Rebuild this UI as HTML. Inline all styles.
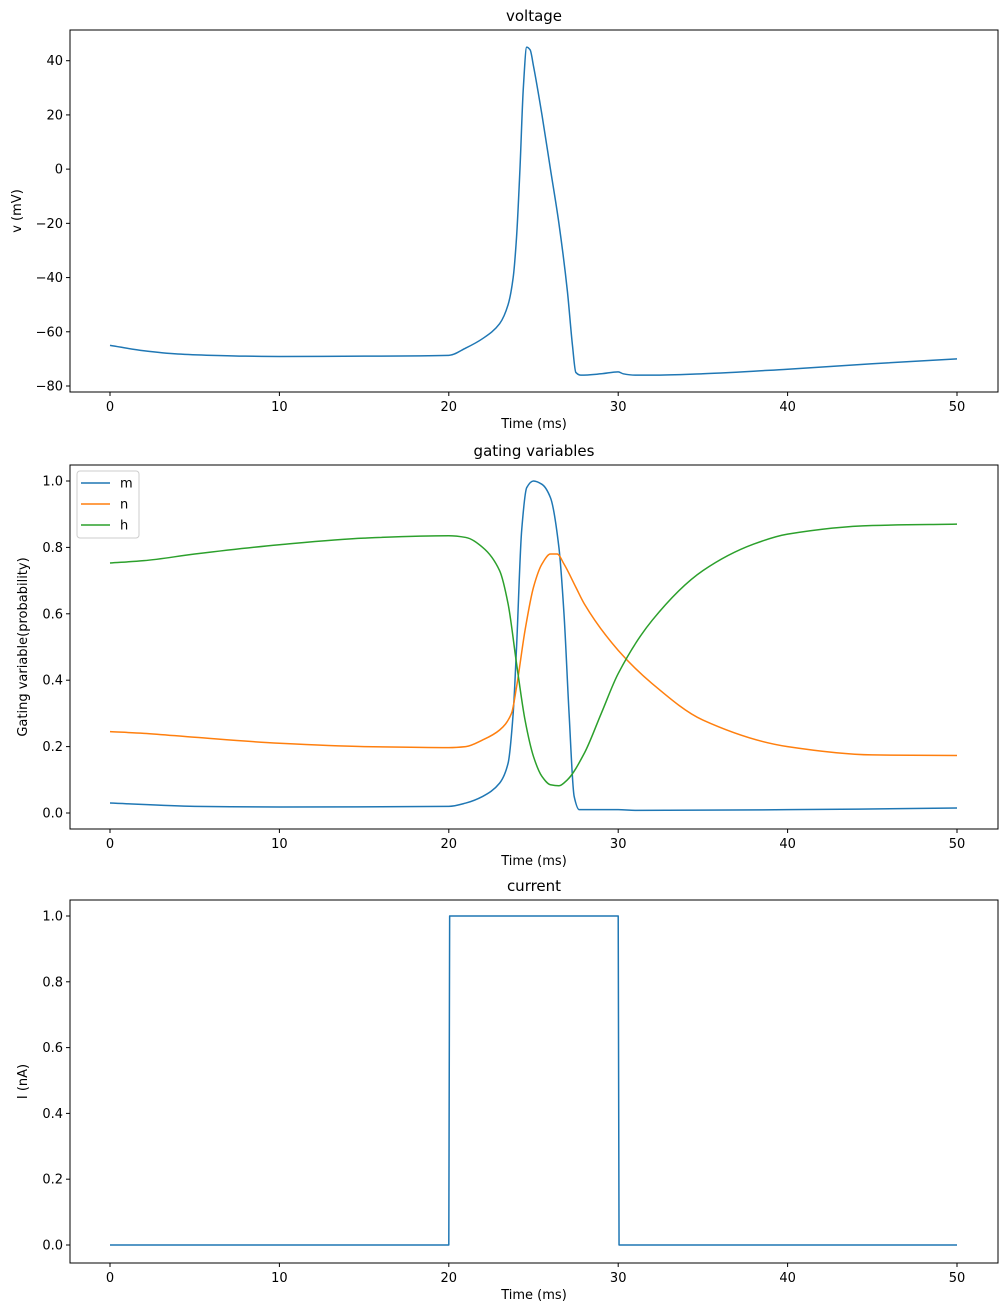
<!DOCTYPE html>
<html><head><meta charset="utf-8"><style>
body{margin:0;background:#fff}
svg{display:block;font-family:"DejaVu Sans","Liberation Sans",sans-serif}
</style></head><body>
<svg id="fig" width="1008" height="1315" viewBox="0 0 1008 1315" xmlns="http://www.w3.org/2000/svg"></svg>
<script>
const timeTicks=[0,10,20,30,40,50];
const vTime=[0,2,4,6,8,10,15,20,21,22,23,23.5,23.8,24,24.2,24.4,24.6,24.8,25,25.5,26,26.5,27,27.3,27.5,27.8,29,30,30.3,31,32,35,40,45,50];
const vValues=[-65,-67,-68.2,-68.7,-69,-69.1,-69,-68.7,-66,-62.5,-57,-50,-40,-25,0,30,45,44,38,20,0,-20,-45,-65,-75,-76,-75.5,-74.8,-75.5,-76,-76,-75.5,-73.8,-71.8,-70];
const vTicks=[-80,-60,-40,-20,0,20,40];
const mTime=[0,5,10,20,21,22,23,23.5,23.8,24,24.3,24.6,25,25.5,26,26.5,26.8,27.1,27.4,27.7,30,31,40,50];
const mValues=[0.03,0.02,0.018,0.02,0.03,0.05,0.09,0.15,0.3,0.5,0.85,0.98,1.0,0.99,0.95,0.8,0.6,0.3,0.05,0.01,0.01,0.008,0.01,0.015];
const nTime=[0,2,5,10,15,20,21,22,23,23.7,24,24.5,25,25.5,26,26.4,26.8,27.5,28,30,32,35,40,45,50];
const nValues=[0.245,0.24,0.228,0.21,0.2,0.197,0.2,0.22,0.25,0.3,0.38,0.55,0.68,0.75,0.78,0.78,0.75,0.68,0.63,0.49,0.39,0.28,0.2,0.175,0.173];
const hTime=[0,2,5,10,15,20,21,22,23,23.5,24,24.5,25,25.5,26,26.5,27,28,29,30,32,35,38,40,45,50];
const hValues=[0.753,0.76,0.78,0.808,0.828,0.835,0.83,0.8,0.73,0.63,0.45,0.28,0.17,0.11,0.085,0.082,0.1,0.18,0.3,0.42,0.58,0.73,0.81,0.84,0.866,0.87];
const gTicks=[0,0.2,0.4,0.6,0.8,1.0];
const iTime=[0,20,20.05,30,30.05,50];
const iValues=[0,0,1,1,0,0];
const iTicks=[0,0.2,0.4,0.6,0.8,1.0];

const svg=document.getElementById('fig');
const NS='http://www.w3.org/2000/svg';
function mk(tag,attrs,parent){const e=document.createElementNS(NS,tag);for(const k in attrs)e.setAttribute(k,attrs[k]);(parent||svg).appendChild(e);return e;}
const L=70,R=998;
const xs=t=>110+(t-0)*(957-110)/50;

function panel(name,top,bottom,y0v,y0p,y1v,y1p,yTicks,fmt,title,ylabel){
  const g=mk('g',{});
  
  
  const ys=v=>y0p+(v-y0v)*(y1p-y0p)/(y1v-y0v);
  const t=mk('text',{x:(L+R)/2,y:top-9,'text-anchor':'middle','font-size':15},g);t.textContent=title;
  
  timeTicks.forEach(v=>{const x=xs(v);mk('line',{x1:x,x2:x,y1:bottom,y2:bottom+4,stroke:'#000'},g);
    const tx=mk('text',{x:x,y:bottom+19,'text-anchor':'middle','font-size':13},g);tx.textContent=v;
    });
  yTicks.forEach(v=>{const y=ys(v);mk('line',{x1:L-4,x2:L,y1:y,y2:y,stroke:'#000'},g);
    const tx=mk('text',{x:L-7,y:y+4.5,'text-anchor':'end','font-size':13},g);tx.textContent=fmt(v);
    });
  const xl=mk('text',{x:(L+R)/2,y:bottom+36,'text-anchor':'middle','font-size':13},g);xl.textContent='Time (ms)';
  
  const cy=(top+bottom)/2;
  const yl=mk('text',{x:0,y:0,'text-anchor':'middle','font-size':13,transform:`translate(${ylabel[1]},${cy}) rotate(-90)`},g);yl.textContent=ylabel[0];
  
  return {g,ys,top,bottom};
}
function monotonePath(X,Y){
  const n=X.length;const d=[],m=new Array(n);
  for(let i=0;i<n-1;i++)d.push((Y[i+1]-Y[i])/(X[i+1]-X[i]));
  m[0]=d[0];m[n-1]=d[n-2];
  for(let i=1;i<n-1;i++){if(d[i-1]*d[i]<=0)m[i]=0;else{const w1=2*(X[i+1]-X[i])+(X[i]-X[i-1]),w2=(X[i+1]-X[i])+2*(X[i]-X[i-1]);m[i]=(w1+w2)/(w1/d[i-1]+w2/d[i]);}}
  let s='M'+X[0].toFixed(2)+' '+Y[0].toFixed(2);
  for(let i=0;i<n-1;i++){const h=(X[i+1]-X[i])/3;
    s+=' C'+(X[i]+h).toFixed(2)+' '+(Y[i]+m[i]*h).toFixed(2)+' '+(X[i+1]-h).toFixed(2)+' '+(Y[i+1]-m[i+1]*h).toFixed(2)+' '+X[i+1].toFixed(2)+' '+Y[i+1].toFixed(2);}
  return s;
}
function series(p,ts,vs,color,name,smooth){
  const X=ts.map(xs),Y=vs.map(p.ys);
  const d=smooth?monotonePath(X,Y):X.map((x,i)=>(i?'L':'M')+x.toFixed(2)+' '+Y[i].toFixed(2)).join(' ');
  const e=mk('path',{d:d,fill:'none',stroke:color,'stroke-width':1.5,'stroke-linejoin':'round'},p.g);
  
}
function frame(p){const r=mk('rect',{x:L,y:p.top,width:R-L,height:p.bottom-p.top,fill:'none',stroke:'#000','stroke-width':1},p.g);
  }

const f1=v=>(v<0?'\u2212'+(-v):''+v);
const f2=v=>v.toFixed(1);
const p1=panel('voltage-panel',30,392,40,60.7,-80,386,vTicks,f1,'voltage',['v (mV)',21]);
series(p1,vTime,vValues,'#1f77b4','voltage-line',true);frame(p1);

const p2=panel('gating-panel',465,829,1,481,0,813,gTicks,f2,'gating variables',['Gating variable(probability)',27]);
series(p2,mTime,mValues,'#1f77b4','m-line',true);
series(p2,nTime,nValues,'#ff7f0e','n-line',true);
series(p2,hTime,hValues,'#2ca02c','h-line',true);
frame(p2);
const lg=mk('g',{},p2.g);

mk('rect',{x:77,y:471,width:62,height:67,rx:3,fill:'#fff','fill-opacity':0.8,stroke:'#ccc'},lg);
[['m','#1f77b4'],['n','#ff7f0e'],['h','#2ca02c']].forEach((s,i)=>{const y=483+i*21;
  const en=mk('g',{},lg);
  mk('line',{x1:81,x2:110,y1:y,y2:y,stroke:s[1],'stroke-width':1.5},en);
  const t=mk('text',{x:120,y:y+4.5,'font-size':13},en);t.textContent=s[0];});

const p3=panel('current-panel',900,1263,1,916,0,1245,iTicks,f2,'current',['I (nA)',27]);
series(p3,iTime,iValues,'#1f77b4','current-line',false);frame(p3);
</script>
</body></html>
